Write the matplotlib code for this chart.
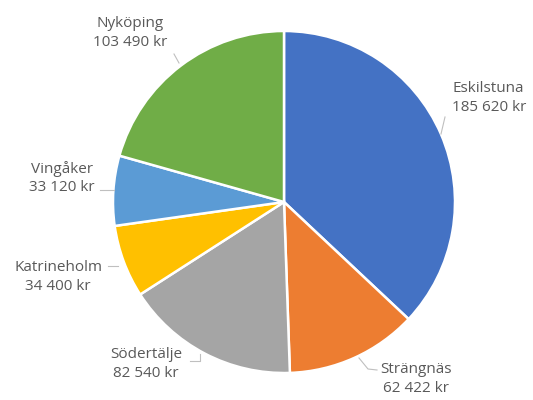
import matplotlib.pyplot as plt
import numpy as np

orter = ['Eskilstuna', 'Strängnäs', 'Södertälje', 'Katrineholm', 'Vingåker', 'Nyköping']
belopp = [185620, 62422, 82540, 34400, 33120, 103490]
farger = ['#4472C4', '#ED7D31', '#A5A5A5', '#FFC000', '#5B9BD5', '#70AD47']

# label anchor (x, y in pixels from top-left) and alignment
label_pos = {
    'Eskilstuna': (452, 98, 'left'),
    'Strängnäs': (416, 379, 'center'),
    'Södertälje': (146, 364, 'center'),
    'Katrineholm': (58, 277, 'center'),
    'Vingåker': (62, 178, 'center'),
    'Nyköping': (130, 33, 'center'),
}
# leader lines (pixel coords)
leaders = {
    'Eskilstuna': [(445, 117), (441, 134)],
    'Strängnäs': [(359, 358), (368, 369), (377, 370)],
    'Södertälje': [(190, 361), (200, 361), (200, 354)],
    'Katrineholm': [(108, 266), (118, 266)],
    'Vingåker': [(100, 190), (114, 190)],
    'Nyköping': [(174, 54), (179, 63)],
}

W, H = 533, 400
fig = plt.figure(figsize=(W / 100, H / 100), dpi=100)
ax = fig.add_axes([0, 0, 1, 1])

ax.pie(belopp, colors=farger, startangle=90, counterclock=False,
       center=(284, H - 202), radius=171, frame=True,
       wedgeprops=dict(edgecolor='white', linewidth=1.8))
ax.set_xlim(0, W)
ax.set_ylim(0, H)
ax.set_aspect('equal')
ax.axis('off')

def kr(v):
    return f'{v:,}'.replace(',', ' ') + ' kr'

for namn, v in zip(orter, belopp):
    x, y, ha = label_pos[namn]
    ax.text(x, H - y, f'{namn}\n{kr(v)}', ha=ha, va='center',
            fontsize=11, family='Open Sans', color='#595959', linespacing=1.3)
    pts = np.array(leaders[namn])
    ax.plot(pts[:, 0], H - pts[:, 1], color='#BFBFBF', lw=0.8)

fig.savefig('out.png', dpi=100, facecolor='white')
